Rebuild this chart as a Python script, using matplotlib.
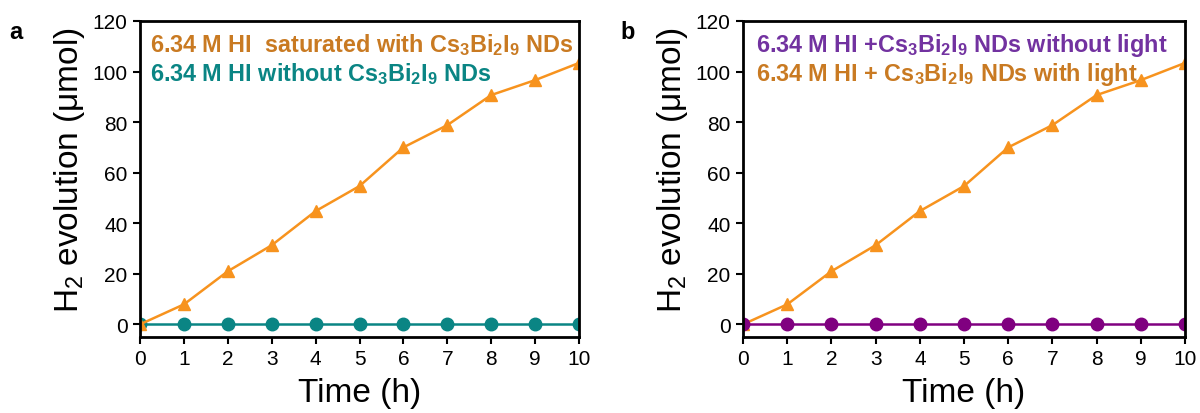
import matplotlib
matplotlib.use("Agg")
import matplotlib.pyplot as plt

plt.rcParams["font.family"] = ["Liberation Sans", "DejaVu Sans"]
plt.rcParams["mathtext.default"] = "regular"

time_h = [0, 1, 2, 3, 4, 5, 6, 7, 8, 9, 10]
h2_with_nds = [0, 7.9, 21, 31.3, 44.8, 54.7, 70, 78.8, 90.7, 96.6, 103.4]
h2_without_nds = [0, 0, 0, 0, 0, 0, 0, 0, 0, 0, 0]
h2_dark = [0, 0, 0, 0, 0, 0, 0, 0, 0, 0, 0]

ORANGE_LINE = "#F7931E"
ORANGE_TEXT = "#C97A22"
TEAL = "#0A8584"
PURPLE_LINE = "#800080"
PURPLE_TEXT = "#7232A0"
LEGEND_SIZE = 16.8


def style_axes(ax):
    ax.set_xlim(0, 10)
    ax.set_ylim(-5, 120)
    ax.set_xticks(time_h)
    ax.set_yticks([0, 20, 40, 60, 80, 100, 120])
    for s in ax.spines.values():
        s.set_linewidth(2.0)
    ax.tick_params(direction="out", length=5, width=1.5, labelsize=15, pad=4)
    ax.set_xlabel("Time (h)", fontsize=24, labelpad=6)
    ax.set_ylabel(r"H$_2$ evolution (μmol)", fontsize=24, labelpad=4)
    ax.yaxis.label.set_y(0.53)


fig = plt.figure(figsize=(12, 4.14), dpi=100)
ax_a = fig.add_axes([0.1167, 0.1836, 0.3658, 0.7633])
ax_b = fig.add_axes([0.6192, 0.1836, 0.3683, 0.7633])

# panel a: HI with and without nanodiscs
ax_a.plot(time_h, h2_without_nds, "-o", color=TEAL, lw=1.8, ms=9)
ax_a.plot(time_h, h2_with_nds, "-^", color=ORANGE_LINE, lw=1.8, ms=9)
style_axes(ax_a)
ax_a.text(0.022, 0.968, r"6.34 M HI  saturated with Cs$_3$Bi$_2$I$_9$ NDs",
          transform=ax_a.transAxes, color=ORANGE_TEXT, fontsize=LEGEND_SIZE,
          fontweight="bold", va="top")
ax_a.text(0.022, 0.875, r"6.34 M HI without Cs$_3$Bi$_2$I$_9$ NDs",
          transform=ax_a.transAxes, color=TEAL, fontsize=LEGEND_SIZE,
          fontweight="bold", va="top")
fig.text(0.008, 0.905, "a", fontsize=17, fontweight="bold")

# panel b: dark vs illuminated
ax_b.plot(time_h, h2_with_nds, "-^", color=ORANGE_LINE, lw=1.8, ms=9)
ax_b.plot(time_h, h2_dark, "-o", color=PURPLE_LINE, lw=1.8, ms=9)
style_axes(ax_b)
ax_b.text(0.03, 0.968, r"6.34 M HI +Cs$_3$Bi$_2$I$_9$ NDs without light",
          transform=ax_b.transAxes, color=PURPLE_TEXT, fontsize=LEGEND_SIZE,
          fontweight="bold", va="top")
ax_b.text(0.03, 0.875, r"6.34 M HI + Cs$_3$Bi$_2$I$_9$ NDs with light",
          transform=ax_b.transAxes, color=ORANGE_TEXT, fontsize=LEGEND_SIZE,
          fontweight="bold", va="top")
fig.text(0.517, 0.905, "b", fontsize=17, fontweight="bold")

fig.savefig("out.png", dpi=100, facecolor="white")
